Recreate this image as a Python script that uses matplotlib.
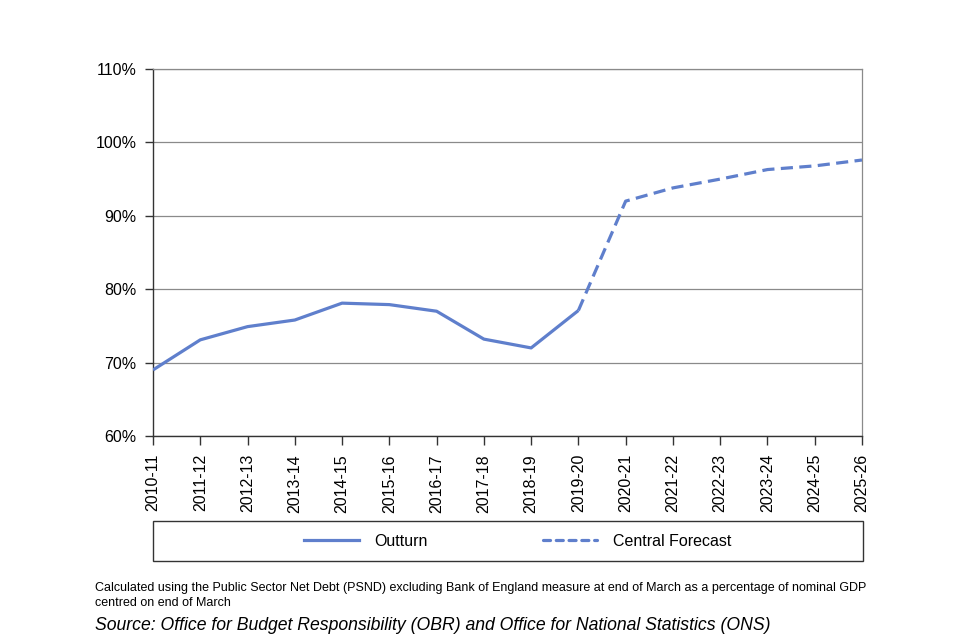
import matplotlib
matplotlib.use('Agg')
import matplotlib.pyplot as plt
from matplotlib.patches import Rectangle
from matplotlib.lines import Line2D
from matplotlib.ticker import FuncFormatter

plt.rcParams['font.family'] = ['Liberation Sans', 'DejaVu Sans']

# -------------------------
# Data (PSND ex BoE, % of GDP)
# -------------------------
years = ["2010-11", "2011-12", "2012-13", "2013-14", "2014-15", "2015-16",
         "2016-17", "2017-18", "2018-19", "2019-20", "2020-21", "2021-22",
         "2022-23", "2023-24", "2024-25", "2025-26"]
outturn = [69.0, 73.1, 74.9, 75.8, 78.1, 77.9, 77.0, 73.2, 72.0, 77.1]
forecast = [77.1, 92.0, 93.8, 95.0, 96.3, 96.8, 97.6]

BLUE = "#5f7fcc"

fig = plt.figure(figsize=(9.6, 6.4), dpi=100)
ax = fig.add_axes([153/960, 1-436/640, (862-153)/960, (436-69)/640])

x_out = list(range(len(outturn)))
x_fc = list(range(len(outturn)-1, len(outturn)-1+len(forecast)))

ax.plot(x_out, outturn, color=BLUE, lw=2.3, solid_capstyle="butt", zorder=3)
fc_line, = ax.plot(x_fc, forecast, color=BLUE, lw=2.3, zorder=3)
fc_line.set_dashes((3.8, 2.0))

ax.set_xlim(0, len(years)-1)
ax.set_ylim(60, 110)
ax.set_yticks(range(60, 111, 10))
ax.yaxis.set_major_formatter(FuncFormatter(lambda v, p: f"{v:.0f}%"))
ax.set_xticks(range(len(years)))
ax.set_xticklabels(years, rotation=90)

ax.grid(axis="y", color="#8a8a8a", lw=0.9)
ax.set_axisbelow(True)
for s in ["top", "right"]:
    ax.spines[s].set_color("#8a8a8a")
    ax.spines[s].set_linewidth(0.9)
for s in ["left", "bottom"]:
    ax.spines[s].set_color("#333333")
    ax.spines[s].set_linewidth(1.0)

ax.tick_params(axis="y", length=6, width=1, color="#333333", pad=6, labelsize=11.5)
ax.tick_params(axis="x", length=6.5, width=1, color="#333333", pad=6.5, labelsize=11.5)

# -------------------------
# Legend in a box spanning plot width
# -------------------------
fig.patches.append(Rectangle((153/960, 1-561/640), (863-153)/960, 40/640,
                             transform=fig.transFigure, fill=False,
                             edgecolor="#333333", lw=1.0))
h1 = Line2D([], [], color=BLUE, lw=2.3)
h2 = Line2D([], [], color=BLUE, lw=2.3, dashes=(2.2, 1.8),
            dash_capstyle="round")
fig.legend([h1, h2], ["Outturn", "Central Forecast"], loc="center",
           bbox_to_anchor=(518/960, 1-541/640), ncol=2, frameon=False,
           fontsize=11.5, handlelength=3.4, handletextpad=1.0,
           columnspacing=7.2)

# -------------------------
# Notes
# -------------------------
fig.text(95/960, 1-588/640,
         "Calculated using the Public Sector Net Debt (PSND) excluding Bank of England measure at end of March as a percentage of nominal GDP",
         fontsize=9.0, va="center", ha="left")
fig.text(95/960, 1-603/640, "centred on end of March",
         fontsize=9.0, va="center", ha="left")
fig.text(95/960, 1-626/640,
         "Source: Office for Budget Responsibility (OBR) and Office for National Statistics (ONS)",
         fontsize=12.7, style="italic", va="center", ha="left")

fig.savefig("out.png", dpi=100)
